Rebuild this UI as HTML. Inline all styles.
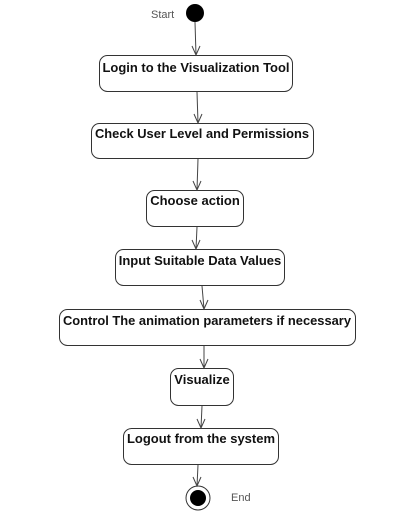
<!DOCTYPE html>
<html><head><style>
html,body{margin:0;padding:0;background:#fff;}
svg{display:block;}
text{font-family:"Liberation Sans",Arial,sans-serif;}
.b{fill:#fff;stroke:#333;stroke-width:1;}
.t{font-size:13px;font-weight:bold;fill:#111;text-anchor:middle;}
.l{stroke:#444;stroke-width:1;fill:none;}
</style></head><body>
<svg width="413" height="515" viewBox="0 0 413 515">
<text x="151" y="18" font-size="11" fill="#555">Start</text>
<circle cx="195" cy="13" r="9" fill="#000"/>
<rect class="b" x="99.5" y="55.5" width="193" height="36" rx="8"/>
<text class="t" x="196" y="72" textLength="187" lengthAdjust="spacingAndGlyphs">Login to the Visualization Tool</text>
<rect class="b" x="91.5" y="123.5" width="222" height="35" rx="8"/>
<text class="t" x="202" y="138" textLength="214" lengthAdjust="spacingAndGlyphs">Check User Level and Permissions</text>
<rect class="b" x="146.5" y="190.5" width="97" height="36" rx="8"/>
<text class="t" x="195" y="205">Choose action</text>
<rect class="b" x="115.5" y="249.5" width="169" height="36" rx="8"/>
<text class="t" x="200" y="265">Input Suitable Data Values</text>
<rect class="b" x="59.5" y="309.5" width="296" height="36" rx="8"/>
<text class="t" x="207" y="325" textLength="288" lengthAdjust="spacingAndGlyphs">Control The animation parameters if necessary</text>
<rect class="b" x="170.5" y="368.5" width="63" height="37" rx="8"/>
<text class="t" x="202" y="384">Visualize</text>
<rect class="b" x="123.5" y="428.5" width="155" height="36" rx="8"/>
<text class="t" x="201" y="443">Logout from the system</text>
<circle cx="198" cy="498" r="12" fill="#fff" stroke="#333"/>
<circle cx="198" cy="498" r="8" fill="#000"/>
<text x="231" y="501" font-size="11" fill="#555">End</text>
<g class="l">
<line x1="195" y1="22" x2="196" y2="55"/><polyline points="192,46 196,55 200,46"/>
<line x1="197" y1="92" x2="198" y2="123"/><polyline points="194,114 198,123 202,114"/>
<line x1="198" y1="159" x2="197" y2="190"/><polyline points="193,181 197,190 201,181"/>
<line x1="197" y1="227" x2="196" y2="249"/><polyline points="192,240 196,249 200,240"/>
<line x1="202" y1="286" x2="204" y2="309"/><polyline points="200,300 204,309 208,300"/>
<line x1="204" y1="346" x2="204" y2="368"/><polyline points="200,359 204,368 208,359"/>
<line x1="202" y1="406" x2="201" y2="428"/><polyline points="197,419 201,428 205,419"/>
<line x1="198" y1="465" x2="197" y2="486"/><polyline points="193,477 197,486 201,477"/>
</g>
</svg>
</body></html>
